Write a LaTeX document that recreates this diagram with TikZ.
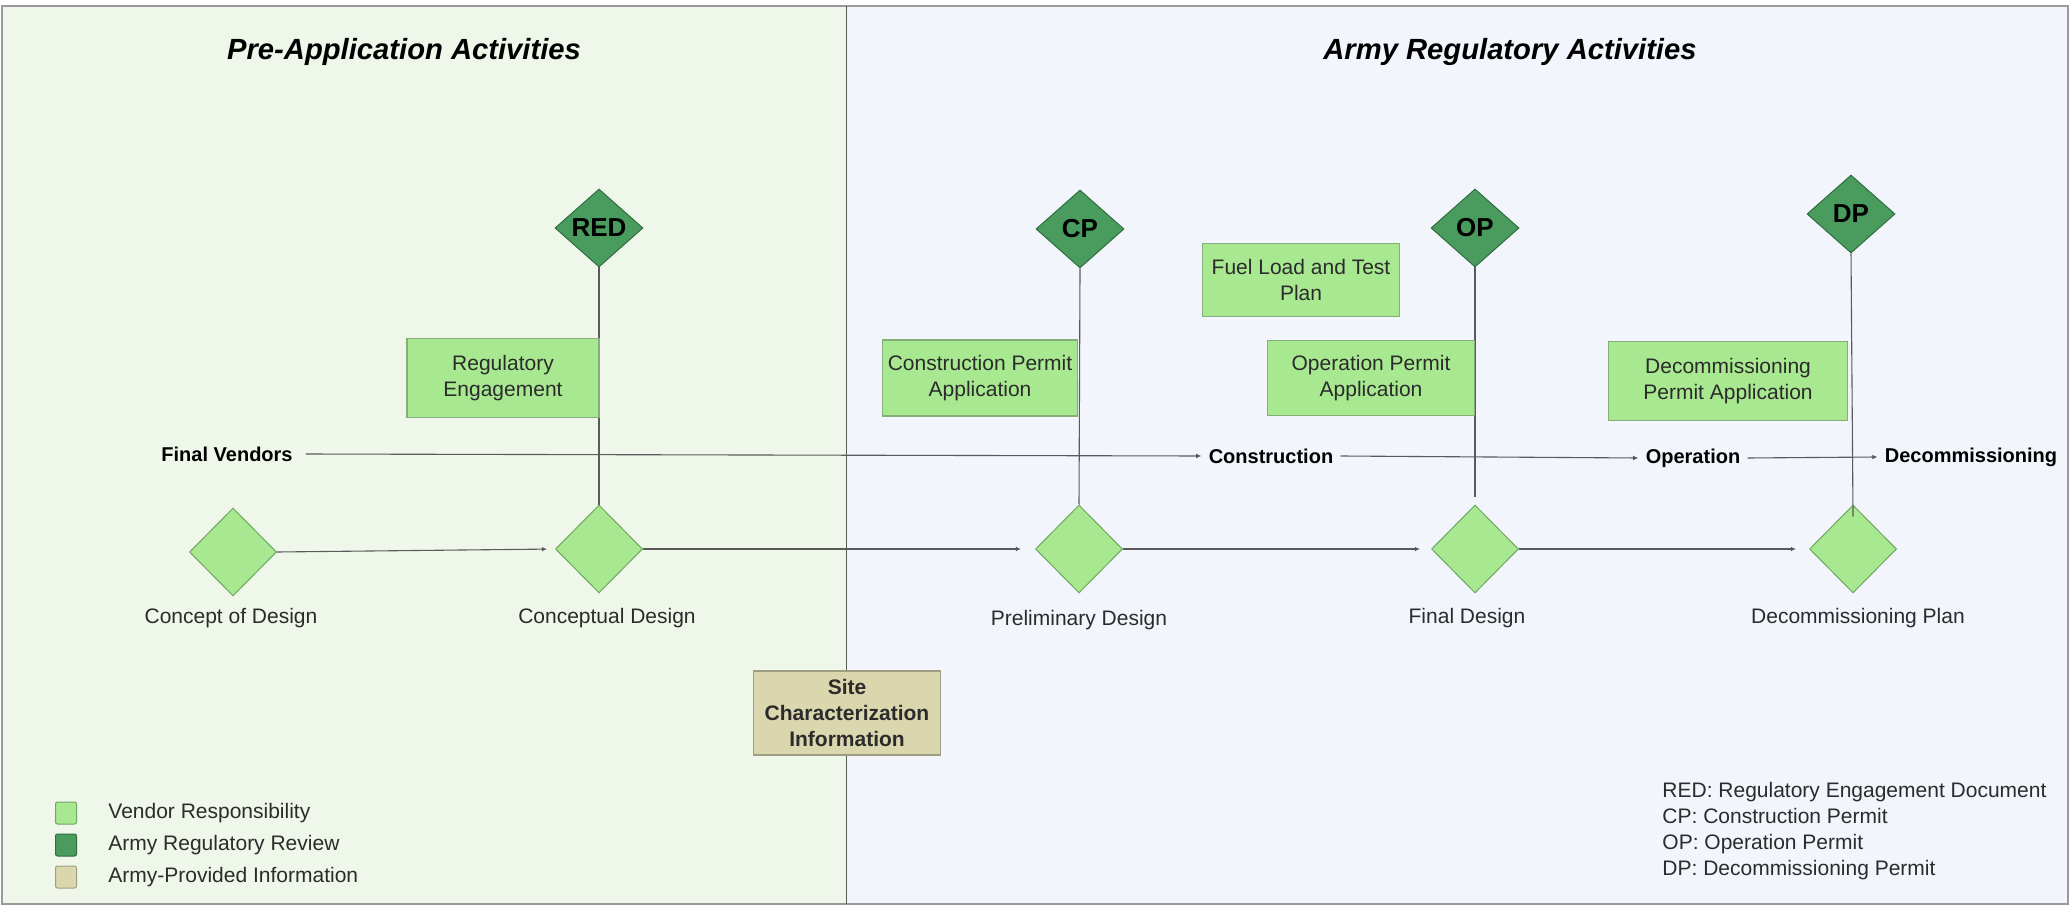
\documentclass[tikz,border=0pt]{standalone}
\usepackage{fontspec}
\setmainfont{Liberation Sans}
\usetikzlibrary{shapes.geometric,arrows.meta}
\definecolor{leftbg}{HTML}{EFF7EA}
\definecolor{rightbg}{HTML}{F2F6FC}
\definecolor{darkg}{HTML}{4A9C5E}
\definecolor{darkgb}{HTML}{2E6E3E}
\definecolor{lightg}{HTML}{A8E890}
\definecolor{lightgb}{HTML}{6FA860}
\definecolor{boxb}{HTML}{86AE7A}
\definecolor{tanfill}{HTML}{DAD7AE}
\definecolor{tanb}{HTML}{A09E82}
\definecolor{framec}{HTML}{9A9A9A}
\definecolor{linec}{HTML}{5A5A5A}
\definecolor{txt}{HTML}{2B2B2B}
\begin{document}
\begin{tikzpicture}[x=0.5pt,y=-0.5pt,
  regfont/.style={font=\fontsize{10.5}{13}\selectfont, text=txt},
  titlefont/.style={font=\bfseries\itshape\fontsize{14.6}{16}\selectfont, text=black},
  darkdia/.style={diamond, draw=darkgb, fill=darkg, line width=0.5pt, minimum width=44pt, minimum height=39pt, inner sep=0pt, font=\bfseries\fontsize{13}{13}\selectfont, text=black},
  lightdia/.style={diamond, draw=lightgb, fill=lightg, line width=0.5pt, minimum width=43.5pt, minimum height=44pt, inner sep=0pt},
  vbox/.style={rectangle, draw=boxb, fill=lightg, line width=0.6pt, align=center, inner sep=0pt, regfont},
  tanbox/.style={rectangle, draw=tanb, fill=tanfill, line width=0.6pt, align=center, inner sep=0pt, font=\bfseries\fontsize{10.5}{13}\selectfont, text=txt},
  dlabel/.style={regfont, inner sep=0pt},
  tlabel/.style={font=\bfseries\fontsize{10}{12}\selectfont, text=black, inner sep=3.5pt},
  conn/.style={draw=linec, line width=0.55pt},
  arr/.style={conn, -{Latex[length=2.6pt,width=2.4pt]}},
  legsq/.style={rectangle, rounded corners=1pt, minimum width=10.5pt, minimum height=11pt, inner sep=0pt, line width=0.5pt}
]
\useasboundingbox (0,0) rectangle (2070,908);
\fill[white] (0,0) rectangle (2070,908);
\fill[leftbg] (2,6) rectangle (846,904);
\fill[rightbg] (846,6) rectangle (2068,904);
\draw[framec, line width=0.9pt] (2,6) rectangle (2068,904);
\draw[linec, line width=0.5pt] (846,6) -- (846,904);

% titles
\node[titlefont] (t1) at (404,52) {Pre-Application Activities};
\node[titlefont] (t2) at (1510,52) {Army Regulatory Activities};

% review diamonds
\node[darkdia] (red) at (599,228) {RED};
\node[darkdia] (cp) at (1080,229) {CP};
\node[darkdia] (op) at (1475,228) {OP};
\node[darkdia] (dp) at (1851,214) {DP};

% design diamonds
\node[lightdia] (cod) at (233,552) {};
\node[lightdia] (cd) at (599,549) {};
\node[lightdia] (pd) at (1079,549) {};
\node[lightdia] (fd) at (1475,549) {};
\node[lightdia] (dpl) at (1853,549) {};

% vertical connectors
\draw[conn] (red.south) -- (cd.north);
\draw[conn] (cp.south) -- (pd.north);
\draw[conn] (op.south) -- ([yshift=3.5pt]fd.north);
\draw[conn] (dp.south) -- ([yshift=-6pt]dpl.north);

% timeline
\node[tlabel] (fv) at (227,454) {Final Vendors};
\node[tlabel] (con) at (1271,456) {Construction};
\node[tlabel] (opn) at (1693,458) {Operation};
\node[tlabel] (dec) at (1971,457) {Decommissioning};
\draw[arr, shorten <=3pt] (fv.east) -- (con.west);
\draw[arr] (con.east) -- (opn.west);
\draw[arr] (opn.east) -- (dec.west);

% design flow
\draw[arr, shorten >=4pt] (cod.east) -- (cd.west);
\draw[arr, shorten >=7pt] (cd.east) -- (pd.west);
\draw[arr, shorten >=5.5pt] (pd.east) -- (fd.west);
\draw[arr, shorten >=6.5pt] (fd.east) -- (dpl.west);

% diamond labels
\node[dlabel] (codl) at (231,618) {Concept of Design};
\node[dlabel] (cdl) at (607,618) {Conceptual Design};
\node[dlabel] (pdl) at (1079,620) {Preliminary Design};
\node[dlabel] (fdl) at (1467,618) {Final Design};
\node[dlabel] (dpll) at (1858,618) {Decommissioning Plan};

% vendor boxes
\node[vbox, minimum width=96pt, minimum height=39.5pt] (reg) at (503,378) {Regulatory\\Engagement};
\node[vbox, minimum width=97.5pt, minimum height=38pt] (cpa) at (980,378) {Construction Permit\\Application};
\node[vbox, minimum width=98.5pt, minimum height=36.5pt] (fuel) at (1301,280) {Fuel Load and Test\\Plan};
\node[vbox, minimum width=103.5pt, minimum height=37.5pt] (opa) at (1371,378) {Operation Permit\\Application};
\node[vbox, minimum width=119.5pt, minimum height=39.5pt] (dpa) at (1728,381) {Decommissioning\\Permit Application};

% army-provided info
\node[tanbox, minimum width=93.5pt, minimum height=42pt] (site) at (847,713) {Site\\Characterization\\Information};

% legend
\node[legsq, fill=lightg, draw=lightgb] (lg1) at (66,813) {};
\node[legsq, fill=darkg, draw=darkgb] (lg2) at (66,845) {};
\node[legsq, fill=tanfill, draw=tanb] (lg3) at (66,877) {};
\node[regfont, anchor=west, inner sep=0pt] (lt1) at (108,813) {Vendor Responsibility};
\node[regfont, anchor=west, inner sep=0pt] (lt2) at (108,845) {Army Regulatory Review};
\node[regfont, anchor=west, inner sep=0pt] (lt3) at (108,877) {Army-Provided Information};

% abbreviations
\node[font=\fontsize{10.5}{13.1}\selectfont, text=txt, anchor=west, align=left, inner sep=0pt] (abbr) at (1662,831) {RED: Regulatory Engagement Document\\CP: Construction Permit\\OP: Operation Permit\\DP: Decommissioning Permit};
\end{tikzpicture}
\end{document}
